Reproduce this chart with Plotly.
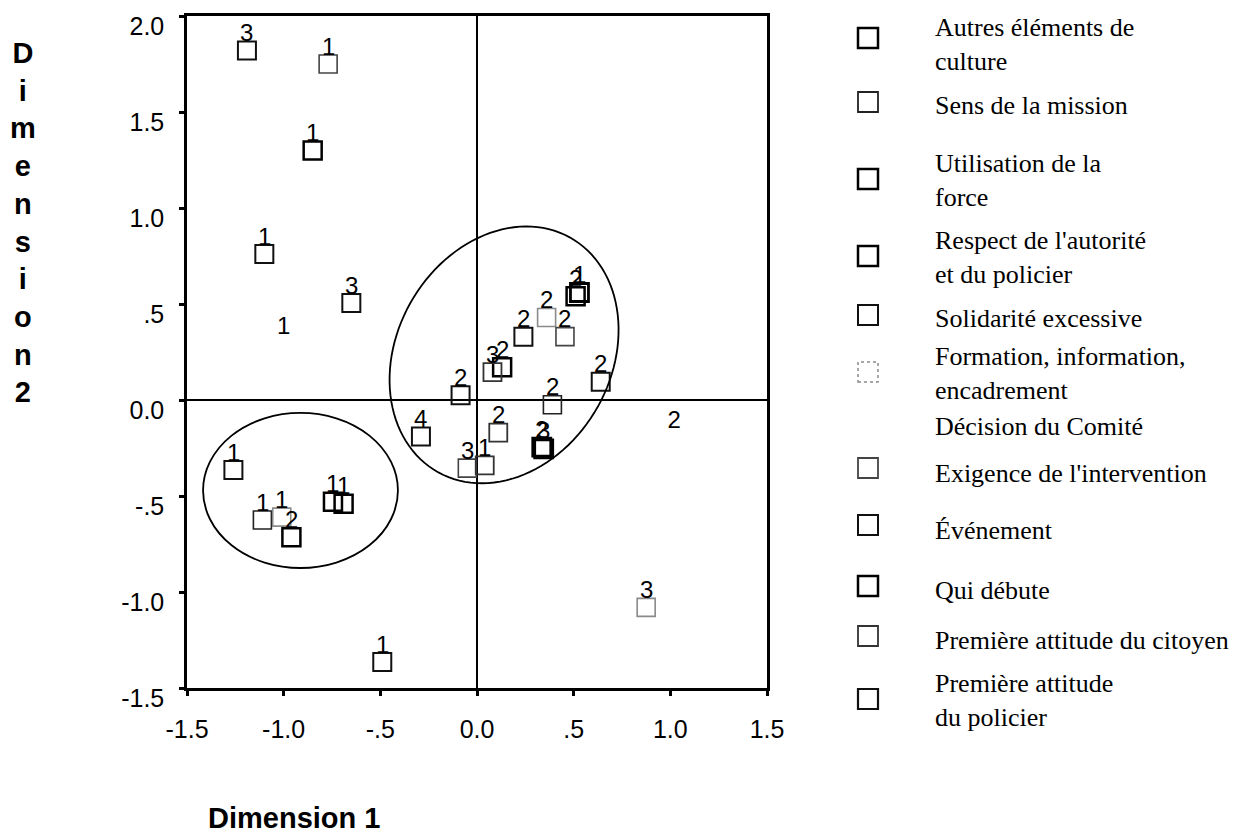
import numpy as np
import plotly.graph_objects as go

# ---------------- data ----------------
autres_lbl = ["1", "2"]
autres_x = [-0.85, 0.13]
autres_y = [1.30, 0.17]

sens_lbl = ["1", "2"]
sens_x = [-1.11, 0.39]
sens_y = [-0.625, -0.025]

force_lbl = ["1", "2"]
force_x = [-0.745, 0.51]
force_y = [-0.53, 0.54]

respect_lbl = ["1", "2"]
respect_x = [-0.69, -0.96]
respect_y = [-0.54, -0.715]

solid_lbl = ["1", "2"]
solid_x = [-1.10, 0.64]
solid_y = [0.76, 0.095]

formation_lbl = ["1", "2", "3"]
formation_x = [-1.01, 0.36, 0.875]
formation_y = [-0.61, 0.43, -1.08]

exigence_lbl = ["1", "2", "3"]
exigence_x = [-0.77, 0.455, -0.05]
exigence_y = [1.75, 0.33, -0.355]

evenement_lbl = ["1", "2", "3", "4"]
evenement_x = [-1.26, 0.24, -1.19, -0.29]
evenement_y = [-0.365, 0.33, 1.82, -0.19]

debute_lbl = ["1", "2", "3"]
debute_x = [0.53, 0.335, 0.345]
debute_y = [0.56, -0.245, -0.255]

citoyen_lbl = ["1", "2", "3"]
citoyen_x = [0.04, 0.11, 0.08]
citoyen_y = [-0.34, -0.17, 0.145]

policier_lbl = ["1", "2", "3"]
policier_x = [-0.49, -0.085, -0.65]
policier_y = [-1.365, 0.025, 0.505]

decision_lbl = ["1", "2"]
decision_x = [-1.00, 1.02]
decision_y = [0.375, -0.115]

legend_names = [
    "Autres éléments de<br>culture",
    "Sens de la mission",
    "Utilisation de la<br>force",
    "Respect de l'autorité<br>et du policier",
    "Solidarité excessive",
    "Formation, information,<br>encadrement",
    "Décision du Comité",
    "Exigence de l'intervention",
    "Événement",
    "Qui débute",
    "Première attitude du citoyen",
    "Première attitude<br>du policier",
]

x_tickvals = [-1.5, -1.0, -0.5, 0.0, 0.5, 1.0, 1.5]
x_ticktext = ["-1.5", "-1.0", "-.5", "0.0", ".5", "1.0", "1.5"]
y_tickvals = [-1.5, -1.0, -0.5, 0.0, 0.5, 1.0, 1.5, 2.0]
y_ticktext = ["-1.5", "-1.0", "-.5", "0.0", ".5", "1.0", "1.5", "2.0"]

# ---------------- styles ----------------
series = [
    (legend_names[0], autres_x, autres_y, autres_lbl, "#000000", 2.5),
    (legend_names[1], sens_x, sens_y, sens_lbl, "#222222", 1.6),
    (legend_names[2], force_x, force_y, force_lbl, "#000000", 2.5),
    (legend_names[3], respect_x, respect_y, respect_lbl, "#000000", 2.5),
    (legend_names[4], solid_x, solid_y, solid_lbl, "#111111", 2.0),
    (legend_names[5], formation_x, formation_y, formation_lbl, "#8a8a8a", 1.6),
    (legend_names[7], exigence_x, exigence_y, exigence_lbl, "#444444", 1.6),
    (legend_names[8], evenement_x, evenement_y, evenement_lbl, "#111111", 2.0),
    (legend_names[9], debute_x, debute_y, debute_lbl, "#000000", 2.8),
    (legend_names[10], citoyen_x, citoyen_y, citoyen_lbl, "#333333", 1.8),
    (legend_names[11], policier_x, policier_y, policier_lbl, "#111111", 2.0),
]

fig = go.Figure()
annotations = []
for name, xs, ys, lbls, col, lw in series:
    fig.add_trace(go.Scatter(
        x=xs, y=ys, name=name.replace("<br>", " "), mode="markers",
        marker=dict(symbol="square-open", size=18, color=col,
                    line=dict(width=lw, color=col)),
        cliponaxis=False,
    ))
    # category number sitting on top of each square
    for xv, yv, lb in zip(xs, ys, lbls):
        annotations.append(dict(
            x=xv, y=yv, xref="x", yref="y", text=lb, showarrow=False,
            yshift=18, xanchor="center", yanchor="middle",
            font=dict(family="Arial", size=24, color="#000000"),
        ))

fig.add_trace(go.Scatter(
    x=decision_x, y=decision_y, text=decision_lbl, name="Décision du Comité",
    mode="text", textposition="middle center",
    textfont=dict(family="Arial", size=24, color="#000000"),
))

# ---------------- ellipses ----------------
shapes = []
cx, cy, a, b, th = 0.14, 0.235, 0.70, 0.555, np.deg2rad(61)
t = np.linspace(0, 2 * np.pi, 121)
ex = cx + a * np.cos(t) * np.cos(th) - b * np.sin(t) * np.sin(th)
ey = cy + a * np.cos(t) * np.sin(th) + b * np.sin(t) * np.cos(th)
path = "M " + " L ".join(f"{px:.4f},{py:.4f}" for px, py in zip(ex, ey)) + " Z"
shapes.append(dict(type="path", path=path, xref="x", yref="y",
                   line=dict(color="#000000", width=1.8)))
shapes.append(dict(type="circle", xref="x", yref="y",
                   x0=-0.913 - 0.504, x1=-0.913 + 0.504,
                   y0=-0.471 - 0.404, y1=-0.471 + 0.404,
                   line=dict(color="#000000", width=1.8)))

# ---------------- custom legend ----------------
L, R, T, B = 187, 767, 16, 688
W, H = R - L, B - T
def px2x(p):
    return (p - L) / W
def py2y(p):
    return (B - p) / H

leg_square_y = [38, 102, 179, 256, 315, 372, None, 468, 525, 586, 636, 699]
leg_text_y = [45, 106, 180, 257, 319, 373, 426, 473, 530, 590, 640, 700]
leg_colors = ["#000000", "#222222", "#000000", "#000000", "#111111", "#8a8a8a",
              None, "#444444", "#111111", "#000000", "#333333", "#111111"]
leg_widths = [2.5, 1.8, 2.5, 2.5, 2.0, 1.5, None, 1.8, 2.0, 2.5, 1.8, 2.2]
leg_dash = ["solid"] * 5 + ["dot"] + ["solid"] * 6

for i, name in enumerate(legend_names):
    if leg_square_y[i] is not None:
        shapes.append(dict(
            type="rect", xref="paper", yref="paper",
            xsizemode="pixel", ysizemode="pixel",
            xanchor=px2x(868), yanchor=py2y(leg_square_y[i]),
            x0=-10, x1=10, y0=-10, y1=10,
            line=dict(color=leg_colors[i], width=leg_widths[i], dash=leg_dash[i]),
        ))
    annotations.append(dict(
        text=name, xref="paper", yref="paper",
        x=px2x(933), y=py2y(leg_text_y[i]), xanchor="left", yanchor="middle",
        align="left", showarrow=False,
        font=dict(family="Liberation Serif", size=26, color="#000000"),
    ))

# axis titles
annotations.append(dict(
    text="<br>".join(list("Dimension") + ["2"]),
    xref="paper", yref="paper", x=px2x(23), y=py2y(222),
    xanchor="center", yanchor="middle", showarrow=False, align="center",
    font=dict(family="Arial", size=29, color="#000000", weight="bold"),
))
annotations.append(dict(
    text="Dimension 1", xref="paper", yref="paper",
    x=px2x(206), y=py2y(818), xanchor="left", yanchor="middle",
    showarrow=False,
    font=dict(family="Arial", size=29, color="#000000", weight="bold"),
))

axis_common = dict(
    showgrid=False, zeroline=True, zerolinecolor="#000000", zerolinewidth=2,
    showline=True, linecolor="#000000", linewidth=2.5, mirror=True,
    ticks="outside", ticklen=5, tickwidth=3, tickcolor="#000000",
    tickfont=dict(family="Arial", size=25, color="#000000"),
)

fig.update_xaxes(range=[-1.5, 1.5], tickvals=x_tickvals, ticktext=x_ticktext,
                 ticklabelstandoff=12, **axis_common)
fig.update_yaxes(range=[-1.5, 2.0], tickvals=y_tickvals, ticktext=y_ticktext,
                 ticklabelstandoff=10, ticklabelshift=10, **axis_common)

fig.update_layout(
    width=1244, height=840,
    margin=dict(l=L, r=1244 - R, t=T, b=840 - B),
    plot_bgcolor="#ffffff", paper_bgcolor="#ffffff",
    showlegend=False, shapes=shapes, annotations=annotations,
    font=dict(family="Arial", color="#000000"),
)

fig.write_html("out.html")
